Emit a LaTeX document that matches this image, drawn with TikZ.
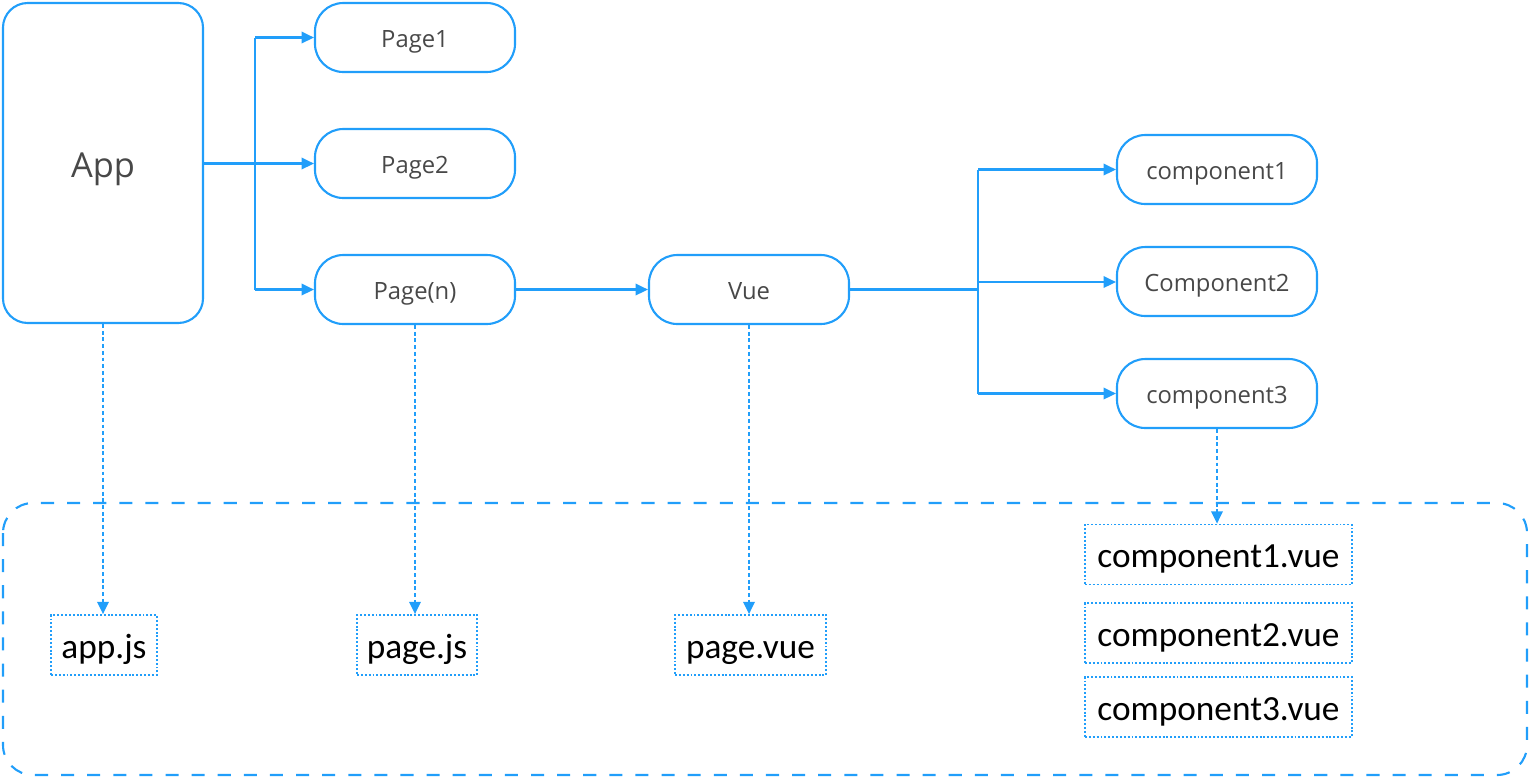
\documentclass[tikz,border=0pt]{standalone}
\usepackage{fontspec}
\setmainfont{Open Sans}
\newfontfamily\filefont{Carlito}
\usetikzlibrary{arrows.meta}
\definecolor{lineblue}{RGB}{33,158,250}
\definecolor{labelgray}{RGB}{72,72,72}
\tikzset{
  pill/.style={draw=lineblue, line width=1.2pt, rounded corners=16pt, minimum width=113.4pt, minimum height=39.1pt, inner sep=0pt, text=labelgray, text height=11.2pt, text depth=0pt, font=\fontsize{13.5}{16}\selectfont},
  filebox/.style={draw=lineblue, line width=1pt, dash pattern=on 1.1pt off 1.1pt, minimum height=34pt, inner sep=0pt, text=black, text height=14.8pt, text depth=0pt, font=\filefont\fontsize{20}{24}\selectfont},
  solidarrow/.style={draw=lineblue, line width=1.25pt, -{Triangle[length=7pt,width=6.5pt]}},
  solidline/.style={draw=lineblue, line width=1.25pt},
  dotarrow/.style={draw=lineblue, line width=1.2pt, dash pattern=on 2.2pt off 1.6pt, -{Triangle[length=7pt,width=6.5pt]}},
}
\begin{document}
\begin{tikzpicture}[x=0.5669pt, y=-0.5669pt]
\useasboundingbox (0,0) rectangle (1530,778);
% outer dashed region
\draw[lineblue, line width=1.2pt, dash pattern=on 7.4pt off 7.4pt, rounded corners=17pt] (3,503) rectangle (1527,775);
% top nodes
\node[pill, rounded corners=14pt, minimum height=181.4pt, text height=16pt, font=\fontsize{19.5}{23}\selectfont] (app) at (103,163) {App};
\node[pill] (page1) at (415,37.5) {Page1};
\node[pill] (page2) at (415,163.5) {Page2};
\node[pill] (pagen) at (415,289.5) {Page(n)};
\node[pill] (vue) at (749,289.5) {Vue};
\node[pill] (comp1) at (1217,169.5) {component1};
\node[pill] (comp2) at (1217,281.5) {Component2};
\node[pill] (comp3) at (1217,393.5) {component3};
% file boxes
\node[filebox, minimum width=60.1pt] (appjs) at (104,645) {app.js};
\node[filebox, minimum width=68pt] (pagejs) at (417,645) {page.js};
\node[filebox, minimum width=85.6pt] (pagevue) at (750.5,645) {page.vue};
\node[filebox, minimum width=151.4pt] (c1vue) at (1218.5,554.5) {component1.vue};
\node[filebox, minimum width=151.4pt] (c2vue) at (1218.5,633) {component2.vue};
\node[filebox, minimum width=151.4pt] (c3vue) at (1218.5,707) {component3.vue};
% coordinates for branches
\coordinate (b1) at (255,37.5);
\coordinate (b3) at (255,289.5);
\coordinate (j1) at (978,169.5);
\coordinate (jm) at (978,289.5);
\coordinate (j2) at (978,282);
\coordinate (j3) at (978,393.5);
% App to pages
\draw[solidarrow] (app.east |- page2.west) -- (page2.west);
\draw[solidarrow] (b1) -- (page1.west);
\draw[solidarrow] (b3) -- (pagen.west);
\draw[solidline] (b1) -- (b3);
% Page(n) to Vue
\draw[solidarrow] (pagen.east) -- (vue.west);
% Vue to components
\draw[solidline] (vue.east) -- (jm);
\draw[solidline] (j1) -- (j3);
\draw[solidarrow] (j1) -- (comp1.west);
\draw[solidarrow] (j2) -- (comp2.west |- j2);
\draw[solidarrow] (j3) -- (comp3.west);
% dotted arrows to files
\draw[dotarrow] (app.south) -- (app.south |- appjs.north);
\draw[dotarrow] (pagen.south) -- (pagen.south |- pagejs.north);
\draw[dotarrow] (vue.south) -- (vue.south |- pagevue.north);
\draw[dotarrow] (comp3.south) -- (comp3.south |- c1vue.north);
\end{tikzpicture}
\end{document}
